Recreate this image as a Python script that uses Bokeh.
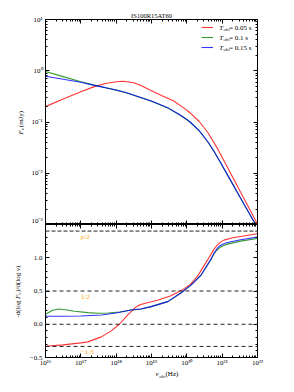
import math
from bokeh.plotting import figure
from bokeh.layouts import column, row
from bokeh.models import (Range1d, LogAxis, LinearAxis, FixedTicker, CustomJSTickFormatter,
                          Span, Label, Legend, LegendItem)
from bokeh.core.properties import value
from bokeh.embed import file_html
from bokeh.resources import INLINE

# ---------------- data ----------------
title_text = "IS100R15AT60"
series_values = ["= 0.05 s", "= 0.1 s", "= 0.15 s"]
colors = ["red", "green", "blue"]

x_decades = [16, 17, 18, 19, 20, 21, 22]
top_y_decades = [-3, -2, -1, 0, 1]
bot_y_ticks = [-0.5, 0.0, 0.5, 1.0]

# top panel: log10(nu_obs), log10(F_nu)
red_top_lognu = [16.0, 16.5, 17.0, 17.38, 17.7, 18.0, 18.2, 18.5, 18.7, 19.0, 19.3, 19.63,
                 19.9, 20.11, 20.35, 20.59, 20.87, 21.04, 21.5, 22.0]
red_top_logF = [-0.70, -0.55, -0.41, -0.31, -0.25, -0.215, -0.205, -0.235, -0.29, -0.39, -0.49,
                -0.59, -0.72, -0.83, -0.99, -1.20, -1.52, -1.74, -2.34, -2.99]

bg_top_lognu = [16.0, 16.5, 17.0, 17.38, 17.7, 18.0, 18.3, 18.7, 19.0, 19.46, 19.8, 20.0, 20.11,
                20.35, 20.59, 20.76, 20.93, 21.2, 21.5, 21.95, 22.0]
blue_top_logF = [-0.106, -0.165, -0.225, -0.285, -0.33, -0.375, -0.43, -0.52, -0.59, -0.72,
                 -0.86, -0.95, -1.01, -1.17, -1.38, -1.56, -1.76, -2.09, -2.46, -3.0, -3.06]
green_top_logF = [-0.015, -0.115, -0.215, -0.28, -0.332, -0.378, -0.435, -0.525, -0.595, -0.725,
                  -0.865, -0.955, -1.015, -1.175, -1.385, -1.565, -1.765, -2.095, -2.465, -3.01, -3.07]

# bottom panel: spectral slope -dlogF/dlognu
red_bot_lognu = [16.0, 16.5, 17.0, 17.2, 17.58, 17.86, 18.09, 18.33, 18.52, 18.62, 18.72, 18.85,
                 19.17, 19.55, 19.88, 20.1, 20.3, 20.58, 20.77, 20.86, 20.95, 21.05, 21.3, 21.52,
                 22.0]
red_bot = [-0.33, -0.31, -0.28, -0.265, -0.19, -0.10, 0.0, 0.14, 0.24, 0.28, 0.30, 0.32,
           0.36, 0.43, 0.52, 0.60, 0.72, 0.96, 1.13, 1.19, 1.235, 1.265, 1.30, 1.32, 1.36]

blue_bot_lognu = [16.0, 16.5, 17.0, 17.58, 18.0, 18.42, 18.7, 18.99, 19.46, 19.83, 20.1, 20.39,
                  20.68, 20.77, 20.86, 20.95, 21.05, 21.15, 21.52, 22.0]
blue_bot = [0.12, 0.12, 0.125, 0.14, 0.17, 0.215, 0.23, 0.265, 0.34, 0.47, 0.58, 0.73,
            0.975, 1.07, 1.14, 1.185, 1.21, 1.23, 1.27, 1.31]

green_bot_lognu = [16.0, 16.2, 16.37, 16.6, 16.82, 17.2, 17.5, 17.77, 18.1, 18.42, 18.7, 18.99,
                   19.46, 19.83, 20.1, 20.39, 20.68, 20.77, 20.86, 20.95, 21.05, 21.15, 21.52, 22.0]
green_bot = [0.15, 0.21, 0.23, 0.215, 0.195, 0.175, 0.165, 0.17, 0.185, 0.215, 0.23, 0.265,
             0.34, 0.47, 0.58, 0.73, 0.97, 1.06, 1.12, 1.16, 1.185, 1.205, 1.25, 1.29]

guide_values = [1.4, 0.5, 0.0, -1.0 / 3.0]
guide_labels = ["p/2", "1/2", "", "\u22121/3"]
guide_label_nu = 1e17

# ---------------- layout constants ----------------
STRIP_W = 26
FW, TOP_H, BOT_H = 213, 205, 135
LEFT, RIGHT = 44 - STRIP_W, 12
TOP_B, BOT_B, XSTRIP_H = 19, 10, 22
P1_H = TOP_B + TOP_H
P2_H = BOT_H + BOT_B
TOTAL_H = P1_H + P2_H + XSTRIP_H
SERIF = "Liberation Serif"
ORANGE = "#ffa500"

sup_js = """
const sup = {"0":"\u2070","1":"\u00b9","2":"\u00b2","3":"\u00b3","4":"\u2074","5":"\u2075",
             "6":"\u2076","7":"\u2077","8":"\u2078","9":"\u2079","-":"\u207b"};
const e = Math.round(Math.log10(tick));
return "10" + String(e).split("").map(c => sup[c]).join("");
"""
lin_js = """
const s = Math.abs(tick).toFixed(1);
return (tick < 0 ? "\u2212" : "") + s;
"""


def decade_ticker(decs):
    majors = [10.0 ** d for d in decs]
    minors = [k * 10.0 ** d for d in decs[:-1] for k in range(2, 10)]
    return FixedTicker(ticks=majors, minor_ticks=minors)


def style_axis(ax, show):
    ax.major_tick_in = 4
    ax.major_tick_out = 0
    ax.minor_tick_in = 2
    ax.minor_tick_out = 0
    ax.axis_line_color = "black"
    ax.major_tick_line_color = "black"
    ax.minor_tick_line_color = "black"
    ax.major_label_text_font = SERIF
    ax.major_label_text_color = "black"
    if show:
        ax.major_label_text_font_size = "7px"
        ax.major_label_text_alpha = 1.0
        ax.major_label_standoff = 3
    else:
        ax.major_label_text_font_size = "1px"
        ax.major_label_text_alpha = 0.0
        ax.major_label_standoff = -1


def text_label(fig, x, y, text, size="7px", italic=False, angle=0.0, color="black"):
    fig.add_layout(Label(x=x, y=y, x_units="screen", y_units="screen", text=text, angle=angle,
                         text_font=SERIF, text_font_style="italic" if italic else "normal",
                         text_font_size=size, text_color=color,
                         text_baseline="middle", text_align="left"))


def blank_strip(w, h):
    f = figure(width=w, height=h, x_range=Range1d(0, 1), y_range=Range1d(0, 1),
               output_backend="svg", toolbar_location=None, min_border=0,
               x_axis_location=None, y_axis_location=None, outline_line_color=None)
    f.grid.visible = False
    return f


xr = Range1d(1e16, 1e22)

# ---------------- top panel ----------------
p1 = figure(width=LEFT + FW + RIGHT, height=P1_H, x_axis_type="log", y_axis_type="log",
            x_range=xr, y_range=Range1d(1e-3, 1e1), output_backend="svg", toolbar_location=None,
            min_border_left=LEFT, min_border_right=RIGHT, min_border_top=TOP_B, min_border_bottom=0,
            title=title_text)
p1.title.align = "center"
p1.title.text_font = SERIF
p1.title.text_font_style = "normal"
p1.title.text_font_size = "6.5px"
p1.title.text_color = "black"
p1.title.standoff = 1
p1.grid.visible = False
p1.outline_line_color = "black"
p1.add_layout(LogAxis(), "above")
p1.add_layout(LogAxis(), "right")
for ax in p1.below + p1.above:
    ax.ticker = decade_ticker(x_decades)
    style_axis(ax, False)
for ax in p1.left + p1.right:
    ax.ticker = decade_ticker(top_y_decades)
    style_axis(ax, False)
style_axis(p1.left[0], True)
p1.left[0].formatter = CustomJSTickFormatter(code=sup_js)

top_series = [(red_top_lognu, red_top_logF), (bg_top_lognu, green_top_logF), (bg_top_lognu, blue_top_logF)]
renderers = []
for (lx, ly), c in zip(top_series, colors):
    r = p1.line([10 ** v for v in lx], [10 ** v for v in ly], line_color=c, line_width=1.1, line_alpha=0.8)
    renderers.append(r)

legend = Legend(items=[LegendItem(label=value(" "), renderers=[r]) for r in renderers],
                location=(156, TOP_H - 33.3), padding=0, margin=0, spacing=0,
                glyph_width=12, glyph_height=10, label_height=10, label_width=2,
                label_standoff=0, border_line_alpha=0, background_fill_alpha=0,
                label_text_font_size="4px")
p1.add_layout(legend)
for i, txt in enumerate(series_values):
    yc = TOP_H - 8.3 - 10 * i
    text_label(p1, 173.7, yc, "T", italic=True)
    text_label(p1, 178.0, yc - 2, "obs", size="4.5px", italic=True)
    text_label(p1, 183.5, yc, txt)

# ---------------- bottom panel ----------------
p2 = figure(width=LEFT + FW + RIGHT, height=P2_H, x_axis_type="log",
            x_range=xr, y_range=Range1d(-0.5, 1.5), output_backend="svg", toolbar_location=None,
            min_border_left=LEFT, min_border_right=RIGHT, min_border_top=0, min_border_bottom=BOT_B)
p2.grid.visible = False
p2.outline_line_color = "black"
p2.add_layout(LogAxis(), "above")
p2.add_layout(LinearAxis(), "right")
for ax in p2.below + p2.above:
    ax.ticker = decade_ticker(x_decades)
    style_axis(ax, False)
style_axis(p2.below[0], True)
p2.below[0].formatter = CustomJSTickFormatter(code=sup_js)
p2.below[0].major_label_standoff = 1
bot_minor = [round(-0.5 + 0.1 * i, 1) for i in range(21)]
for ax in p2.left + p2.right:
    ax.ticker = FixedTicker(ticks=bot_y_ticks, minor_ticks=bot_minor)
    style_axis(ax, False)
style_axis(p2.left[0], True)
p2.left[0].formatter = CustomJSTickFormatter(code=lin_js)

for v, t in zip(guide_values, guide_labels):
    if t == "p/2":
        p2.add_layout(Span(location=v, dimension="width", line_color="#808080",
                           line_width=1.6, line_dash="4 2"))
    else:
        p2.add_layout(Span(location=v, dimension="width", line_color="#222222",
                           line_width=1, line_dash="4 3"))
    if t:
        p2.add_layout(Label(x=guide_label_nu, y=v, y_offset=-6, text=t, text_color=ORANGE,
                            text_font=SERIF, text_font_size="7px", text_baseline="middle",
                            text_align="left"))

bot_series = [(red_bot_lognu, red_bot), (green_bot_lognu, green_bot), (blue_bot_lognu, blue_bot)]
for (lx, ly), c in zip(bot_series, colors):
    p2.line([10 ** v for v in lx], ly, line_color=c, line_width=1.1, line_alpha=0.8)

# ---------------- label strips ----------------
xstrip = blank_strip(LEFT + FW + RIGHT, XSTRIP_H)
xs0 = 136 - STRIP_W
xy = XSTRIP_H - 4.5
text_label(xstrip, xs0, xy, "\u03bd", italic=True)
text_label(xstrip, xs0 + 3.8, xy - 2, "obs", size="4.5px", italic=True)
text_label(xstrip, xs0 + 10, xy, " (Hz)")

ystrip = blank_strip(STRIP_W, TOTAL_H)
rot = math.pi / 2
# F_nu (mJy), centred on the top panel
y0 = TOTAL_H - 134
text_label(ystrip, 20, y0, "F", italic=True, angle=rot)
text_label(ystrip, 22, y0 + 4.3, "\u03bd", size="5px", italic=True, angle=rot)
text_label(ystrip, 20, y0 + 7.3, " (mJy)", angle=rot)
# -d(log F_nu)/d(log nu), centred on the bottom panel
y1 = TOTAL_H - 317
text_label(ystrip, 17, y1, "-d(log ", angle=rot)
text_label(ystrip, 17, y1 + 18.5, "F", italic=True, angle=rot)
text_label(ystrip, 19, y1 + 22.8, "\u03bd", size="5px", italic=True, angle=rot)
text_label(ystrip, 17, y1 + 25.6, ")/d(log \u03bd)", angle=rot)

layout = row(ystrip, column(p1, p2, xstrip))
open("out.html", "w").write(file_html(layout, INLINE))
